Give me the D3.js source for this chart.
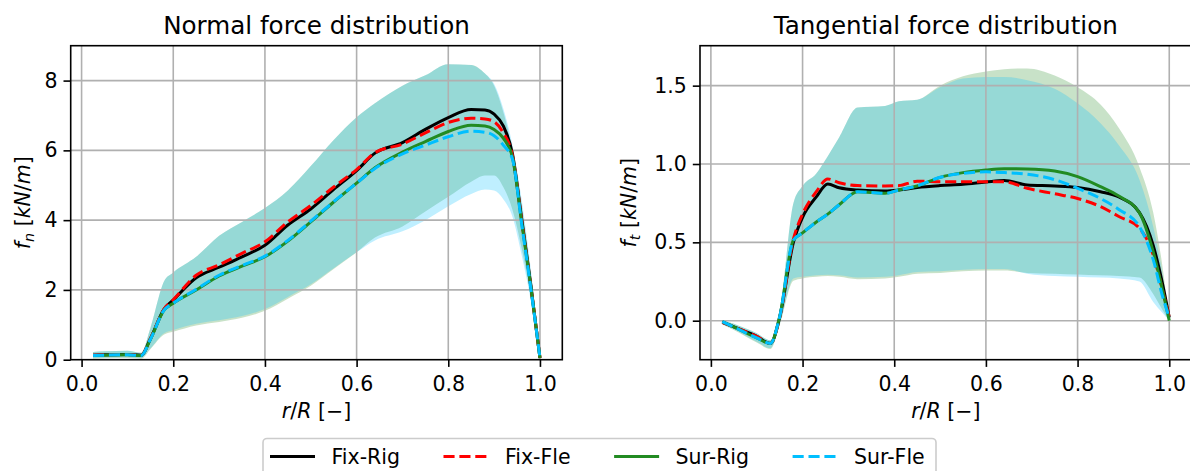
<html>
<head>
  <title>Force distribution</title>
  <script src="https://d3js.org/d3.v7.min.js"></script>
  <style>
    body { margin:0; padding:0; background:white; overflow:hidden }
    text { font-family: "DejaVu Sans", sans-serif; }
  </style>
</head>
<body>
<div id="chart"></div>
<script>
  // ---- data ----
  var seriesNames = ["Fix-Rig", "Fix-Fle", "Sur-Rig", "Sur-Fle"];
  var xTicks = [0, 0.2, 0.4, 0.6, 0.8, 1.0];

  // normal force, r/R positions
  var rN = [0.025, 0.05, 0.1, 0.13, 0.15, 0.18, 0.2, 0.25, 0.3, 0.35, 0.4, 0.45, 0.5, 0.55, 0.6, 0.64, 0.7, 0.75, 0.8, 0.85, 0.88, 0.9, 0.92, 0.94, 0.96, 0.98, 1.0];
  var fnFixRig = [0.13, 0.14, 0.15, 0.13, 0.6, 1.45, 1.71, 2.35, 2.65, 2.95, 3.28, 3.86, 4.32, 4.88, 5.42, 5.92, 6.22, 6.6, 6.94, 7.17, 7.16, 7.04, 6.7, 5.9, 4.05, 2.15, 0.05];
  var fnFixFle = [0.13, 0.14, 0.15, 0.13, 0.6, 1.45, 1.72, 2.42, 2.72, 3.05, 3.38, 3.95, 4.42, 4.95, 5.45, 5.93, 6.18, 6.5, 6.8, 6.92, 6.9, 6.82, 6.5, 5.85, 4.0, 2.1, 0.05];
  var fnSurRig = [0.12, 0.13, 0.14, 0.12, 0.58, 1.42, 1.62, 2.0, 2.4, 2.68, 2.95, 3.4, 3.95, 4.52, 5.06, 5.5, 5.95, 6.25, 6.54, 6.72, 6.7, 6.6, 6.35, 5.8, 3.95, 2.1, 0.05];
  var fnSurFle = [0.12, 0.13, 0.14, 0.12, 0.58, 1.42, 1.62, 2.02, 2.42, 2.7, 2.97, 3.42, 3.97, 4.53, 5.06, 5.48, 5.9, 6.15, 6.39, 6.55, 6.52, 6.42, 6.15, 5.75, 3.9, 2.05, 0.05];
  var fnSurRigHi = [0.22, 0.24, 0.26, 0.2, 0.9, 2.25, 2.5, 2.95, 3.55, 3.95, 4.35, 4.85, 5.55, 6.3, 6.95, 7.35, 7.85, 8.15, 8.47, 8.45, 8.2, 7.85, 7.1, 6.0, 4.45, 2.45, 0.1];
  var fnSurRigLo = [0.03, 0.04, 0.05, 0.03, 0.3, 0.72, 0.8, 0.98, 1.08, 1.2, 1.4, 1.75, 2.12, 2.6, 3.08, 3.5, 3.82, 4.25, 4.67, 5.1, 5.28, 5.28, 4.95, 4.3, 3.2, 1.8, 0.02];
  var fnSurFleHi = [0.22, 0.24, 0.26, 0.2, 0.9, 2.25, 2.5, 2.95, 3.55, 3.95, 4.35, 4.85, 5.55, 6.3, 6.95, 7.35, 7.85, 8.15, 8.47, 8.45, 8.2, 7.9, 7.2, 6.15, 4.6, 2.6, 0.1];
  var fnSurFleLo = [0.05, 0.06, 0.07, 0.05, 0.32, 0.76, 0.85, 1.03, 1.13, 1.25, 1.45, 1.8, 2.16, 2.62, 3.08, 3.42, 3.68, 4.0, 4.4, 4.75, 4.88, 4.85, 4.6, 4.1, 3.0, 1.7, 0.02];
  var fnTicks = [0, 2, 4, 6, 8];

  // tangential force
  var rT = [0.025, 0.05, 0.1, 0.13, 0.15, 0.18, 0.2, 0.23, 0.255, 0.28, 0.32, 0.38, 0.41, 0.45, 0.5, 0.55, 0.6, 0.64, 0.69, 0.75, 0.8, 0.85, 0.89, 0.935, 0.965, 0.985, 1.0];
  var ftFixRig = [-0.01, -0.04, -0.1, -0.145, 0.02, 0.5, 0.66, 0.79, 0.872, 0.848, 0.834, 0.828, 0.834, 0.85, 0.862, 0.87, 0.885, 0.895, 0.866, 0.86, 0.85, 0.823, 0.79, 0.69, 0.48, 0.24, 0.02];
  var ftFixFle = [-0.01, -0.04, -0.1, -0.145, 0.02, 0.52, 0.68, 0.823, 0.905, 0.88, 0.862, 0.86, 0.862, 0.89, 0.887, 0.887, 0.887, 0.887, 0.845, 0.81, 0.78, 0.728, 0.665, 0.59, 0.42, 0.2, 0.02];
  var ftSurRig = [-0.006, -0.04, -0.11, -0.145, 0.025, 0.515, 0.56, 0.63, 0.68, 0.74, 0.823, 0.813, 0.834, 0.86, 0.915, 0.945, 0.962, 0.97, 0.968, 0.955, 0.919, 0.855, 0.795, 0.688, 0.44, 0.2, 0.0];
  var ftSurFle = [-0.006, -0.04, -0.11, -0.145, 0.025, 0.515, 0.56, 0.63, 0.68, 0.74, 0.823, 0.813, 0.834, 0.86, 0.915, 0.94, 0.95, 0.945, 0.935, 0.9, 0.845, 0.78, 0.71, 0.6, 0.39, 0.16, 0.02];
  var ftSurRigHi = [0.005, -0.02, -0.08, -0.125, 0.06, 0.75, 0.86, 0.94, 1.05, 1.17, 1.36, 1.37, 1.4, 1.41, 1.5, 1.56, 1.59, 1.605, 1.61, 1.565, 1.49, 1.38, 1.23, 0.98, 0.69, 0.35, 0.0];
  var ftSurRigLo = [-0.025, -0.06, -0.14, -0.18, -0.03, 0.255, 0.27, 0.28, 0.285, 0.28, 0.265, 0.27, 0.28, 0.3, 0.305, 0.315, 0.32, 0.32, 0.305, 0.3, 0.295, 0.29, 0.285, 0.275, 0.17, 0.07, 0.0];
  var ftSurFleHi = [0.005, -0.02, -0.08, -0.125, 0.06, 0.75, 0.86, 0.94, 1.05, 1.17, 1.36, 1.37, 1.4, 1.41, 1.49, 1.545, 1.555, 1.555, 1.535, 1.48, 1.387, 1.26, 1.12, 0.9, 0.6, 0.3, 0.0];
  var ftSurFleLo = [-0.02, -0.055, -0.135, -0.175, -0.025, 0.27, 0.28, 0.29, 0.293, 0.29, 0.275, 0.28, 0.29, 0.31, 0.315, 0.325, 0.33, 0.33, 0.3, 0.285, 0.28, 0.275, 0.27, 0.25, 0.12, 0.05, 0.0];
  var ftTicks = [0, 0.5, 1.0, 1.5];

  var WIDTH = 1190, HEIGHT = 471;
  var TOP = 45.7, BOTTOM = 359.7;
  var colors = ["black", "red", "#228b22", "#00bfff"];
  var dashed = [false, true, false, true];
  var LW = 3.0, DASH = "11.1,4.8";

  var svg = d3.select("#chart").append("svg")
    .attr("width", WIDTH)
    .attr("height", HEIGHT);
  svg.append("rect").attr("width", WIDTH).attr("height", HEIGHT).attr("fill", "white");

  function drawPanel(p) {
    var x = d3.scaleLinear().domain([-0.02375, 1.04875]).range([p.left, p.right]);
    var y = d3.scaleLinear().domain(p.yDomain).range([BOTTOM, TOP]);
    var g = svg.append("g");

    g.append("clipPath").attr("id", p.id)
      .append("rect").attr("x", p.left).attr("y", TOP)
      .attr("width", p.right - p.left).attr("height", BOTTOM - TOP);

    var plot = g.append("g").attr("clip-path", "url(#" + p.id + ")");

    // bands (green first, blue on top)
    p.bands.forEach(function(b) {
      var area = d3.area()
        .x(function(d, i) { return x(p.r[i]); })
        .y0(function(d, i) { return y(b.lo[i]); })
        .y1(function(d, i) { return y(b.hi[i]); })
        .curve(d3.curveMonotoneX);
      plot.append("path").datum(b.lo)
        .attr("d", area)
        .attr("fill", b.color)
        .attr("fill-opacity", 0.25);
    });

    // grid
    plot.selectAll(".gx").data(xTicks).enter().append("line")
      .attr("x1", function(d) { return x(d); }).attr("x2", function(d) { return x(d); })
      .attr("y1", TOP).attr("y2", BOTTOM)
      .attr("stroke", "#b0b0b0").attr("stroke-width", 1.6);
    plot.selectAll(".gy").data(p.yTicks).enter().append("line")
      .attr("y1", function(d) { return y(d); }).attr("y2", function(d) { return y(d); })
      .attr("x1", p.left).attr("x2", p.right)
      .attr("stroke", "#b0b0b0").attr("stroke-width", 1.6);

    // lines
    p.lines.forEach(function(vals, k) {
      var line = d3.line()
        .x(function(d, i) { return x(p.r[i]); })
        .y(function(d) { return y(d); })
        .curve(d3.curveMonotoneX);
      plot.append("path").datum(vals)
        .attr("d", line)
        .attr("fill", "none")
        .attr("stroke", colors[k])
        .attr("stroke-width", LW)
        .attr("stroke-dasharray", dashed[k] ? DASH : null);
    });

    // axes
    var xAxis = g.append("g").attr("transform", "translate(0," + BOTTOM + ")")
      .call(d3.axisBottom(x).tickValues(xTicks).tickFormat(d3.format(".1f")).tickSize(7.2).tickPadding(5));
    var yAxis = g.append("g").attr("transform", "translate(" + p.left + ",0)")
      .call(d3.axisLeft(y).tickValues(p.yTicks).tickFormat(p.yFormat).tickSize(7.2).tickPadding(6));
    [xAxis, yAxis].forEach(function(a) {
      a.select(".domain").remove();
      a.selectAll("line").attr("stroke", "black").attr("stroke-width", 1.6);
      a.selectAll("text").attr("font-size", 20.5).attr("fill", "black")
        .attr("font-family", "DejaVu Sans");
    });
    xAxis.selectAll("text").attr("dy", null).attr("y", 31.5);

    g.append("rect")
      .attr("x", p.left).attr("y", TOP)
      .attr("width", p.right - p.left).attr("height", BOTTOM - TOP)
      .attr("fill", "none").attr("stroke", "black").attr("stroke-width", 1.6);

    // title
    g.append("text")
      .attr("x", (p.left + p.right) / 2).attr("y", 34)
      .attr("text-anchor", "middle")
      .attr("font-size", 24.6)
      .text(p.title);

    // x label: r/R [−]
    var xl = g.append("text")
      .attr("x", (p.left + p.right) / 2).attr("y", 418)
      .attr("text-anchor", "middle")
      .attr("font-size", 20.5);
    xl.append("tspan").attr("font-style", "italic").text("r");
    xl.append("tspan").text("/");
    xl.append("tspan").attr("font-style", "italic").text("R");
    xl.append("tspan").text(" [\u2212]");

    // y label: f_sub [kN/m]
    var yl = g.append("text")
      .attr("transform", "translate(" + p.yLabelX + "," + ((TOP + BOTTOM) / 2) + ") rotate(-90)")
      .attr("text-anchor", "middle")
      .attr("font-size", 20.5);
    yl.append("tspan").attr("font-style", "italic").text("f");
    yl.append("tspan").attr("font-style", "italic").attr("font-size", 14.3).attr("dy", 4).text(p.sub);
    yl.append("tspan").attr("dy", -4).text(" [");
    yl.append("tspan").attr("font-style", "italic").text("kN");
    yl.append("tspan").text("/");
    yl.append("tspan").attr("font-style", "italic").text("m");
    yl.append("tspan").text("]");
  }

  drawPanel({
    id: "clipN", left: 70.7, right: 562.3,
    yDomain: [0, 9.0], yTicks: fnTicks, yFormat: d3.format("d"),
    title: "Normal force distribution", sub: "n", yLabelX: 30,
    r: rN,
    lines: [fnFixRig, fnFixFle, fnSurRig, fnSurFle],
    bands: [{lo: fnSurRigLo, hi: fnSurRigHi, color: colors[2]},
            {lo: fnSurFleLo, hi: fnSurFleHi, color: colors[3]}]
  });

  drawPanel({
    id: "clipT", left: 700, right: 1191.6,
    yDomain: [-0.249, 1.755], yTicks: ftTicks, yFormat: d3.format(".1f"),
    title: "Tangential force distribution", sub: "t", yLabelX: 636,
    r: rT,
    lines: [ftFixRig, ftFixFle, ftSurRig, ftSurFle],
    bands: [{lo: ftSurRigLo, hi: ftSurRigHi, color: colors[2]},
            {lo: ftSurFleLo, hi: ftSurFleHi, color: colors[3]}]
  });

  // legend
  var legend = svg.append("g");
  legend.append("rect")
    .attr("x", 263).attr("y", 438.5)
    .attr("width", 673).attr("height", 50)
    .attr("rx", 4)
    .attr("fill", "white").attr("fill-opacity", 0.8)
    .attr("stroke", "#cccccc").attr("stroke-width", 1.6);

  var lx = 270, ly = 456.5;
  seriesNames.forEach(function(name, k) {
    legend.append("line")
      .attr("x1", lx).attr("x2", lx + 45)
      .attr("y1", ly).attr("y2", ly)
      .attr("stroke", colors[k]).attr("stroke-width", LW)
      .attr("stroke-dasharray", dashed[k] ? DASH : null);
    var t = legend.append("text")
      .attr("x", lx + 61.5).attr("y", ly + 7.4)
      .attr("font-size", 20.5)
      .text(name);
    lx = lx + 61.5 + t.node().getComputedTextLength() + 43.5;
  });
</script>
</body>
</html>
